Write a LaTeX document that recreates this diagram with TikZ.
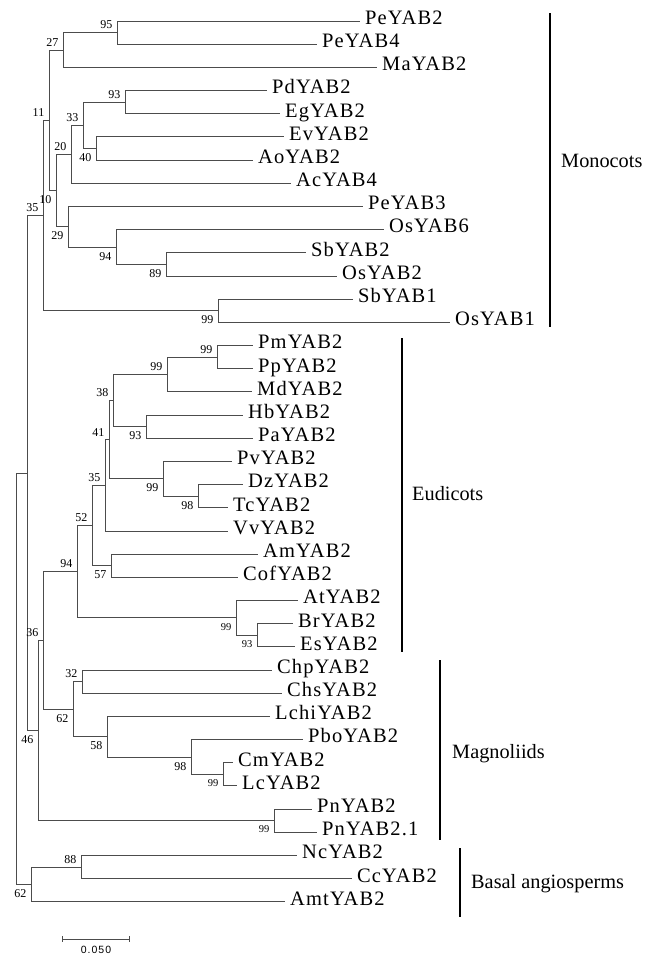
\documentclass[tikz,border=0pt]{standalone}
\usepackage{fontspec}
\setmainfont{Liberation Serif}
\newfontfamily\leaffam[LetterSpace=5.5]{Liberation Serif}
\newfontfamily\cladefam{Liberation Serif}
\newfontfamily\bsfam{Liberation Serif}
\newfontfamily\scalefam[LetterSpace=10]{Liberation Sans}
\newcommand\leaffont{\leaffam\fontsize{20.5}{24}\selectfont}
\newcommand\cladefont{\cladefam\fontsize{20.3}{24}\selectfont}
\newcommand\bsfont{\bsfam\fontsize{12}{13}\selectfont}
\newcommand\bsfontsm{\bsfam\fontsize{10.5}{12}\selectfont}
\newcommand\scalefont{\scalefam\fontsize{10.5}{12}\selectfont}
\tikzset{
  br/.style={draw=black!70, line width=1pt},
  leaf/.style={anchor=west, inner xsep=5pt, inner ysep=0pt, text height=0.662em, text depth=0pt, font=\leaffont},
  bsa/.style={anchor=south east, inner sep=0pt, font=\bsfont},
  bsb/.style={anchor=north east, inner sep=0pt, font=\bsfont},
  cladebar/.style={draw=black, line width=2pt},
  cladelab/.style={anchor=base west, inner sep=0pt, font=\cladefont},
}
\newcommand\bsA[3]{\node[bsa] (#1) at ([xshift=-4.5pt,yshift=3.5pt]#2) {#3};}
\newcommand\bsB[3]{\node[bsb] (#1) at ([xshift=-4.5pt,yshift=-5pt]#2) {#3};}
\newcommand\bsBs[3]{\node[bsb,font=\bsfontsm] (#1) at ([xshift=-4.5pt,yshift=-5pt]#2) {#3};}
\begin{document}
\begin{tikzpicture}[x=1pt,y=-1pt]
\fill[white] (0,0) rectangle (646,956);
\useasboundingbox (0,0) rectangle (646,956);

% ---------- leaves ----------
\node[leaf] (PeYAB2) at (360,21.0) {PeYAB2};
\node[leaf] (PeYAB4) at (317,44.2) {PeYAB4};
\node[leaf] (MaYAB2) at (377,67.4) {MaYAB2};
\node[leaf] (PdYAB2) at (267,90.5) {PdYAB2};
\node[leaf] (EgYAB2) at (280,113.7) {EgYAB2};
\node[leaf] (EvYAB2) at (284,136.9) {EvYAB2};
\node[leaf] (AoYAB2) at (253,160.1) {AoYAB2};
\node[leaf] (AcYAB4) at (291,183.3) {AcYAB4};
\node[leaf] (PeYAB3) at (363,206.4) {PeYAB3};
\node[leaf] (OsYAB6) at (384,229.6) {OsYAB6};
\node[leaf] (SbYAB2) at (306,252.8) {SbYAB2};
\node[leaf] (OsYAB2) at (337,276.0) {OsYAB2};
\node[leaf] (SbYAB1) at (353,299.2) {SbYAB1};
\node[leaf] (OsYAB1) at (450,322.3) {OsYAB1};
\node[leaf] (PmYAB2) at (253,345.5) {PmYAB2};
\node[leaf] (PpYAB2) at (253,368.7) {PpYAB2};
\node[leaf] (MdYAB2) at (252,391.9) {MdYAB2};
\node[leaf] (HbYAB2) at (243,415.1) {HbYAB2};
\node[leaf] (PaYAB2) at (253,438.2) {PaYAB2};
\node[leaf] (PvYAB2) at (232,461.4) {PvYAB2};
\node[leaf] (DzYAB2) at (243,484.6) {DzYAB2};
\node[leaf] (TcYAB2) at (228,507.8) {TcYAB2};
\node[leaf] (VvYAB2) at (228,531.0) {VvYAB2};
\node[leaf] (AmYAB2) at (258,554.1) {AmYAB2};
\node[leaf] (CofYAB2) at (238,577.3) {CofYAB2};
\node[leaf] (AtYAB2) at (298,600.5) {AtYAB2};
\node[leaf] (BrYAB2) at (293,623.7) {BrYAB2};
\node[leaf] (EsYAB2) at (295,646.9) {EsYAB2};
\node[leaf] (ChpYAB2) at (272,670.0) {ChpYAB2};
\node[leaf] (ChsYAB2) at (282,693.2) {ChsYAB2};
\node[leaf] (LchiYAB2) at (270,716.4) {LchiYAB2};
\node[leaf] (PboYAB2) at (303,739.6) {PboYAB2};
\node[leaf] (CmYAB2) at (233,762.8) {CmYAB2};
\node[leaf] (LcYAB2) at (237,785.9) {LcYAB2};
\node[leaf] (PnYAB2) at (312,809.1) {PnYAB2};
\node[leaf] (PnYAB21) at (317,832.3) {PnYAB2.1};
\node[leaf] (NcYAB2) at (297,855.5) {NcYAB2};
\node[leaf] (CcYAB2) at (352,878.7) {CcYAB2};
\node[leaf] (AmtYAB2) at (285,901.8) {AmtYAB2};

% ---------- internal nodes ----------
\coordinate (n95) at (117,32.6);
\coordinate (n27) at (63,50.0);
\coordinate (n93a) at (125,102.1);
\coordinate (n40) at (96,148.5);
\coordinate (n33) at (83,125.3);
\coordinate (n20) at (71,154.3);
\coordinate (n89) at (166,264.4);
\coordinate (n94a) at (116,247.0);
\coordinate (n29) at (68,226.7);
\coordinate (n10) at (56,190.5);
\coordinate (n11) at (49,120.25);
\coordinate (n99a) at (218,310.75);
\coordinate (n35a) at (43,215.5);
\coordinate (n99b) at (217,357.1);
\coordinate (n99c) at (167,374.5);
\coordinate (n93b) at (146,426.65);
\coordinate (n38) at (113,400.6);
\coordinate (n98a) at (198,496.2);
\coordinate (n99d) at (163,478.8);
\coordinate (n41) at (109,439.7);
\coordinate (n35b) at (105,485.35);
\coordinate (n57) at (111,565.7);
\coordinate (n52) at (92,525.5);
\coordinate (n93c) at (257,635.3);
\coordinate (n99e) at (236,617.9);
\coordinate (n94b) at (77,571.7);
\coordinate (n32) at (82,681.6);
\coordinate (n99f) at (223,774.35);
\coordinate (n98b) at (191,757.0);
\coordinate (n58) at (107,736.7);
\coordinate (n62a) at (73,709.15);
\coordinate (n36) at (43,640.4);
\coordinate (n99g) at (274,820.7);
\coordinate (n46) at (38,730.55);
\coordinate (ntop) at (27,473.0);
\coordinate (n88) at (81,867.1);
\coordinate (n62b) at (31,884.45);
\coordinate (root) at (16,678.7);

% ---------- branches ----------
\draw[br] (n95) |- (PeYAB2.west);
\draw[br] (n95) |- (PeYAB4.west);
\draw[br] (n27) |- (n95);
\draw[br] (n27) |- (MaYAB2.west);
\draw[br] (n93a) |- (PdYAB2.west);
\draw[br] (n93a) |- (EgYAB2.west);
\draw[br] (n40) |- (EvYAB2.west);
\draw[br] (n40) |- (AoYAB2.west);
\draw[br] (n33) |- (n93a);
\draw[br] (n33) |- (n40);
\draw[br] (n20) |- (n33);
\draw[br] (n20) |- (AcYAB4.west);
\draw[br] (n89) |- (SbYAB2.west);
\draw[br] (n89) |- (OsYAB2.west);
\draw[br] (n94a) |- (OsYAB6.west);
\draw[br] (n94a) |- (n89);
\draw[br] (n29) |- (PeYAB3.west);
\draw[br] (n29) |- (n94a);
\draw[br] (n10) |- (n20);
\draw[br] (n10) |- (n29);
\draw[br] (n11) |- (n27);
\draw[br] (n11) |- (n10);
\draw[br] (n99a) |- (SbYAB1.west);
\draw[br] (n99a) |- (OsYAB1.west);
\draw[br] (n35a) |- (n11);
\draw[br] (n35a) |- (n99a);

\draw[br] (n99b) |- (PmYAB2.west);
\draw[br] (n99b) |- (PpYAB2.west);
\draw[br] (n99c) |- (n99b);
\draw[br] (n99c) |- (MdYAB2.west);
\draw[br] (n93b) |- (HbYAB2.west);
\draw[br] (n93b) |- (PaYAB2.west);
\draw[br] (n38) |- (n99c);
\draw[br] (n38) |- (n93b);
\draw[br] (n98a) |- (DzYAB2.west);
\draw[br] (n98a) |- (TcYAB2.west);
\draw[br] (n99d) |- (PvYAB2.west);
\draw[br] (n99d) |- (n98a);
\draw[br] (n41) |- (n38);
\draw[br] (n41) |- (n99d);
\draw[br] (n35b) |- (n41);
\draw[br] (n35b) |- (VvYAB2.west);
\draw[br] (n57) |- (AmYAB2.west);
\draw[br] (n57) |- (CofYAB2.west);
\draw[br] (n52) |- (n35b);
\draw[br] (n52) |- (n57);
\draw[br] (n93c) |- (BrYAB2.west);
\draw[br] (n93c) |- (EsYAB2.west);
\draw[br] (n99e) |- (AtYAB2.west);
\draw[br] (n99e) |- (n93c);
\draw[br] (n94b) |- (n52);
\draw[br] (n94b) |- (n99e);

\draw[br] (n32) |- (ChpYAB2.west);
\draw[br] (n32) |- (ChsYAB2.west);
\draw[br] (n99f) |- (CmYAB2.west);
\draw[br] (n99f) |- (LcYAB2.west);
\draw[br] (n98b) |- (PboYAB2.west);
\draw[br] (n98b) |- (n99f);
\draw[br] (n58) |- (LchiYAB2.west);
\draw[br] (n58) |- (n98b);
\draw[br] (n62a) |- (n32);
\draw[br] (n62a) |- (n58);
\draw[br] (n36) |- (n94b);
\draw[br] (n36) |- (n62a);
\draw[br] (n99g) |- (PnYAB2.west);
\draw[br] (n99g) |- (PnYAB21.west);
\draw[br] (n46) |- (n36);
\draw[br] (n46) |- (n99g);
\draw[br] (ntop) |- (n35a);
\draw[br] (ntop) |- (n46);

\draw[br] (n88) |- (NcYAB2.west);
\draw[br] (n88) |- (CcYAB2.west);
\draw[br] (n62b) |- (n88);
\draw[br] (n62b) |- (AmtYAB2.west);
\draw[br] (root) |- (ntop);
\draw[br] (root) |- (n62b);

% ---------- bootstrap values ----------
\bsA{b95}{n95}{95}
\bsA{b27}{n27}{27}
\bsA{b93a}{n93a}{93}
\bsB{b40}{n40}{40}
\bsA{b33}{n33}{33}
\bsA{b20}{n20}{20}
\bsB{b89}{n89}{89}
\bsB{b94a}{n94a}{94}
\bsB{b29}{n29}{29}
\bsB{b10}{n10}{10}
\bsA{b11}{n11}{11}
\bsB{b99a}{n99a}{99}
\bsA{b35a}{n35a}{35}
\bsA{b99b}{n99b}{99}
\bsA{b99c}{n99c}{99}
\bsB{b93b}{n93b}{93}
\bsA{b38}{n38}{38}
\bsB{b98a}{n98a}{98}
\bsB{b99d}{n99d}{99}
\bsA{b41}{n41}{41}
\bsA{b35b}{n35b}{35}
\bsB{b57}{n57}{57}
\bsA{b52}{n52}{52}
\bsBs{b93c}{n93c}{93}
\bsBs{b99e}{n99e}{99}
\bsA{b94b}{n94b}{94}
\bsA{b32}{n32}{32}
\bsBs{b99f}{n99f}{99}
\bsB{b98b}{n98b}{98}
\bsB{b58}{n58}{58}
\bsB{b62a}{n62a}{62}
\bsA{b36}{n36}{36}
\bsBs{b99g}{n99g}{99}
\bsB{b46}{n46}{46}
\bsA{b88}{n88}{88}
\bsB{b62b}{n62b}{62}

% ---------- clade bars ----------
\coordinate (monoT) at (550,13);
\coordinate (monoB) at (550,327);
\coordinate (eudT) at (402,338);
\coordinate (eudB) at (402,652);
\coordinate (magT) at (440,660);
\coordinate (magB) at (440,840);
\coordinate (basT) at (460,848);
\coordinate (basB) at (460,917);
\draw[cladebar] (monoT) -- (monoB);
\draw[cladebar] (eudT) -- (eudB);
\draw[cladebar] (magT) -- (magB);
\draw[cladebar] (basT) -- (basB);
\node[cladelab] (lmono) at (561,167) {Monocots};
\node[cladelab] (leud) at (412,500) {Eudicots};
\node[cladelab] (lmag) at (452,758) {Magnoliids};
\node[cladelab] (lbas) at (471,888) {Basal angiosperms};

% ---------- scale bar ----------
\coordinate (sbL) at (62,939);
\coordinate (sbR) at (129,939);
\draw[br] (sbL) -- (sbR);
\draw[br] ([yshift=3pt]sbL) -- ([yshift=-3pt]sbL);
\draw[br] ([yshift=3pt]sbR) -- ([yshift=-3pt]sbR);
\node[inner sep=0pt, font=\scalefont] (sblab) at (96,950) {0.050};
\end{tikzpicture}
\end{document}
